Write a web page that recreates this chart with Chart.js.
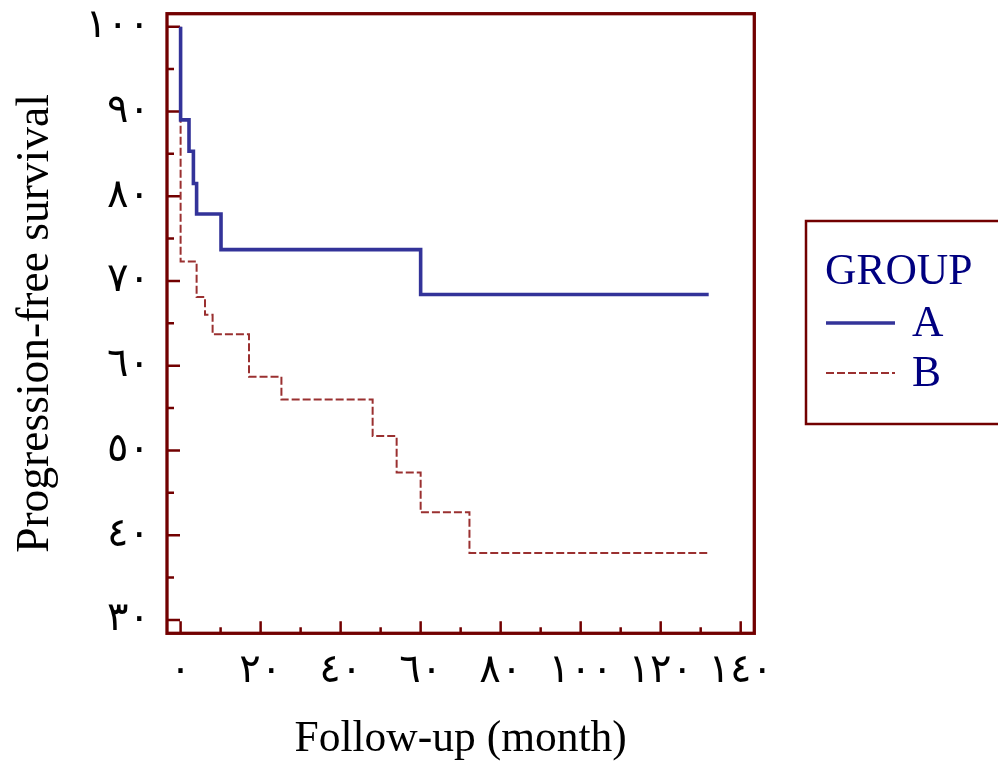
<!DOCTYPE html>
<html lang="en">
<head>
    <meta charset="UTF-8">
    <title>Progression-free survival by group</title>
    <script src="https://cdn.jsdelivr.net/npm/chart.js"></script>
    <style>
        body {
            margin: 0;
            background: #ffffff;
        }
        #chartContainer {
            width: 998px;
            height: 761px;
        }
    </style>
</head>
<body>
    <div id="chartContainer">
        <canvas id="myChart" width="998" height="761"></canvas>
    </div>

    <script>
        // Kaplan-Meier steps (month, survival %)
        const groupAMonths   = [0, 0, 2.1, 3.2, 4.0, 10.1, 60, 132];
        const groupASurvival = [100, 89.0, 85.3, 81.5, 77.9, 73.7, 68.4, 68.4];

        const groupBMonths   = [0, 0, 4.0, 6.1, 8.0, 17.1, 25.2, 48, 54, 60, 72.2, 132];
        const groupBSurvival = [100, 72.3, 68.1, 66.0, 63.7, 58.7, 56.0, 51.7, 47.4, 42.7, 37.9, 37.9];

        const groupNames = ['A', 'B'];
        const legendTitle = 'GROUP';

        const xMajorTicks = [0, 20, 40, 60, 80, 100, 120, 140];
        const xMinorTicks = [10, 30, 50, 70, 90, 110, 130];
        const xTickLabels = ['٠', '٢٠', '٤٠', '٦٠', '٨٠', '١٠٠', '١٢٠', '١٤٠'];

        const yMajorTicks = [30, 40, 50, 60, 70, 80, 90, 100];
        const yMinorTicks = [35, 45, 55, 65, 75, 85, 95];
        const yTickLabels = ['٣٠', '٤٠', '٥٠', '٦٠', '٧٠', '٨٠', '٩٠', '١٠٠'];

        const frameColor = '#720000';
        const serif = "'Liberation Serif', 'Times New Roman', serif";
        const tickFont = "'Liberation Serif', 'DejaVu Sans', serif";

        const toPoints = (xs, ys) => xs.map((x, i) => ({ x: x, y: ys[i] }));

        // frame and inward tick marks
        const framePlugin = {
            id: 'frame',
            beforeDatasetsDraw(chart) {
                const { ctx, chartArea: a, scales } = chart;
                ctx.save();
                ctx.strokeStyle = frameColor;
                ctx.lineWidth = 2.5;
                ctx.beginPath();
                yMajorTicks.forEach(v => {
                    const y = scales.y.getPixelForValue(v);
                    ctx.moveTo(a.left, y); ctx.lineTo(a.left + 13, y);
                });
                yMinorTicks.forEach(v => {
                    const y = scales.y.getPixelForValue(v);
                    ctx.moveTo(a.left, y); ctx.lineTo(a.left + 7, y);
                });
                xMajorTicks.forEach(v => {
                    const x = scales.x.getPixelForValue(v);
                    ctx.moveTo(x, a.bottom); ctx.lineTo(x, a.bottom - 12);
                });
                xMinorTicks.forEach(v => {
                    const x = scales.x.getPixelForValue(v);
                    ctx.moveTo(x, a.bottom); ctx.lineTo(x, a.bottom - 6);
                });
                ctx.stroke();
                ctx.restore();
            },
            afterDraw(chart) {
                const { ctx, chartArea: a } = chart;
                ctx.save();
                ctx.strokeStyle = frameColor;
                ctx.lineWidth = 3.3;
                ctx.strokeRect(a.left, a.top, a.right - a.left, a.bottom - a.top);
                ctx.restore();
            }
        };

        // boxed legend on the right
        const boxLegendPlugin = {
            id: 'boxLegend',
            afterDraw(chart) {
                const ctx = chart.ctx;
                ctx.save();
                ctx.strokeStyle = frameColor;
                ctx.lineWidth = 2.5;
                ctx.strokeRect(806, 221, 200, 203);
                ctx.fillStyle = '#000080';
                ctx.font = '43.5px ' + serif;
                ctx.textBaseline = 'alphabetic';
                ctx.fillText(legendTitle, 825, 284);
                chart.data.datasets.forEach((ds, i) => {
                    const y = 323 + i * 50;
                    ctx.save();
                    ctx.strokeStyle = ds.borderColor;
                    ctx.lineWidth = ds.borderWidth;
                    ctx.setLineDash(ds.borderDash || []);
                    ctx.beginPath();
                    ctx.moveTo(826, y);
                    ctx.lineTo(895, y);
                    ctx.stroke();
                    ctx.restore();
                    ctx.fillText(ds.label, 912, y + 13);
                });
                ctx.restore();
            }
        };

        const ctx = document.getElementById('myChart').getContext('2d');

        new Chart(ctx, {
            type: 'line',
            data: {
                datasets: [{
                    label: groupNames[0],
                    data: toPoints(groupAMonths, groupASurvival),
                    borderColor: '#333399',
                    borderWidth: 3.6,
                    stepped: 'before',
                    pointRadius: 0,
                    fill: false
                }, {
                    label: groupNames[1],
                    data: toPoints(groupBMonths, groupBSurvival),
                    borderColor: '#9a3030',
                    borderWidth: 2,
                    borderDash: [8, 3],
                    stepped: 'before',
                    pointRadius: 0,
                    fill: false
                }]
            },
            options: {
                responsive: false,
                devicePixelRatio: 1,
                animation: false,
                layout: { padding: { left: 0, top: 13.7, right: 243.7, bottom: 0 } },
                scales: {
                    x: {
                        type: 'linear',
                        min: -3.4,
                        max: 143.4,
                        afterFit: s => { s.height = 127.7; s.paddingLeft = 0; s.paddingRight = 0; },
                        afterBuildTicks: s => { s.ticks = xMajorTicks.map(v => ({ value: v })); },
                        grid: { display: false, drawTicks: false },
                        border: { display: false },
                        ticks: {
                            padding: 14,
                            maxRotation: 0,
                            autoSkip: false,
                            color: '#000000',
                            font: { family: tickFont, size: 40 },
                            callback: (v, i) => xTickLabels[i]
                        },
                        title: {
                            display: true,
                            text: 'Follow-up (month)',
                            color: '#000000',
                            font: { family: serif, size: 43.5, lineHeight: 1 },
                            padding: { top: 0, bottom: 0 }
                        }
                    },
                    y: {
                        type: 'linear',
                        min: 28.43,
                        max: 101.53,
                        afterFit: s => { s.width = 167; s.paddingTop = 0; s.paddingBottom = 0; },
                        afterBuildTicks: s => { s.ticks = yMajorTicks.map(v => ({ value: v })); },
                        grid: { display: false, drawTicks: false },
                        border: { display: false },
                        ticks: {
                            padding: 17,
                            autoSkip: false,
                            color: '#000000',
                            font: { family: tickFont, size: 40 },
                            callback: (v, i) => yTickLabels[i]
                        },
                        title: {
                            display: true,
                            text: 'Progression-free survival',
                            color: '#000000',
                            font: { family: serif, size: 45.5 },
                            padding: { top: 9, bottom: 0 }
                        }
                    }
                },
                plugins: {
                    legend: { display: false },
                    tooltip: { enabled: false }
                }
            },
            plugins: [framePlugin, boxLegendPlugin]
        });
    </script>
</body>
</html>
